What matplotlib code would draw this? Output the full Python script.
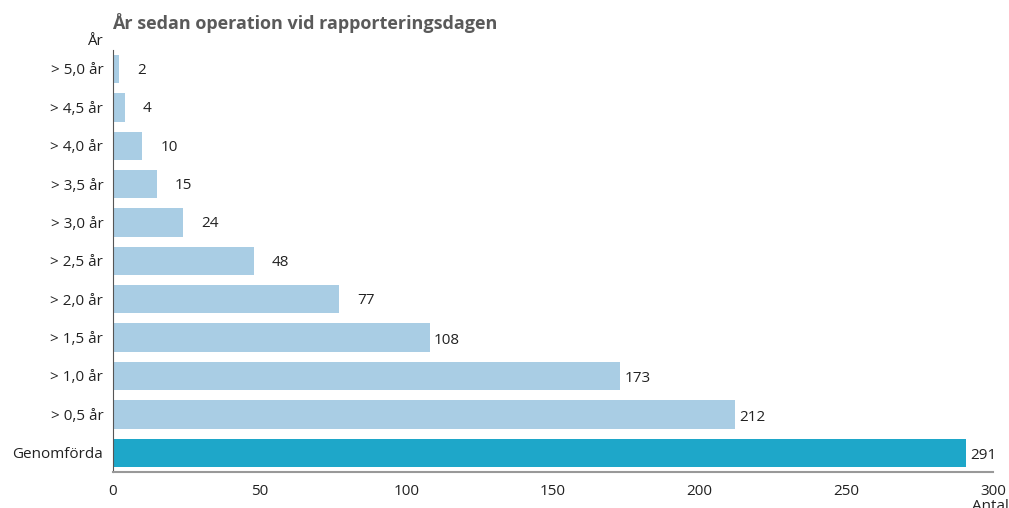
import matplotlib.pyplot as plt

plt.rcParams['font.family'] = ['Open Sans', 'DejaVu Sans']

categories = ['Genomförda', '> 0,5 år', '> 1,0 år', '> 1,5 år', '> 2,0 år', '> 2,5 år',
              '> 3,0 år', '> 3,5 år', '> 4,0 år', '> 4,5 år', '> 5,0 år']
values = [291, 212, 173, 108, 77, 48, 24, 15, 10, 4, 2]
colors = ['#1ea7c9'] + ['#a9cde4'] * 10

fig = plt.figure(figsize=(10.09, 5.08), dpi=100)
ax = fig.add_axes([0.112, 0.071, 0.872, 0.831])

ax.barh(range(len(values)), values, height=0.74, color=colors)
for i, v in enumerate(values):
    ax.annotate(str(v), (v, i), xytext=(3 if v > 100 else 13, -2 if v > 100 else -1),
                textcoords='offset points', va='center', ha='left', fontsize=11, color='#222222')

ax.set_xlim(0, 300)
ax.set_ylim(-0.5, 10.5)
ax.set_yticks(range(len(values)))
ax.set_yticklabels(categories, fontsize=11, color='#222222')
ax.set_xticks([0, 50, 100, 150, 200, 250, 300])
ax.tick_params(axis='both', length=0, labelsize=11, colors='#222222')
ax.tick_params(axis='y', pad=7)
ax.tick_params(axis='x', pad=9)

for s in ['top', 'right']:
    ax.spines[s].set_visible(False)
ax.spines['left'].set_color('#555555')
ax.spines['bottom'].set_color('#999999')
ax.spines['bottom'].set_linewidth(1.5)

fig.text(0.111, 0.955, 'År sedan operation vid rapporteringsdagen', fontsize=13,
         fontweight='bold', color='#5a5a5a', ha='left', va='center')
fig.text(0.094, 0.918, 'År', fontsize=11, color='#222222', ha='center', va='center')
fig.text(0.982, 0.003, 'Antal', fontsize=11, color='#222222', ha='center', va='center')

fig.savefig('out.png', dpi=100)
